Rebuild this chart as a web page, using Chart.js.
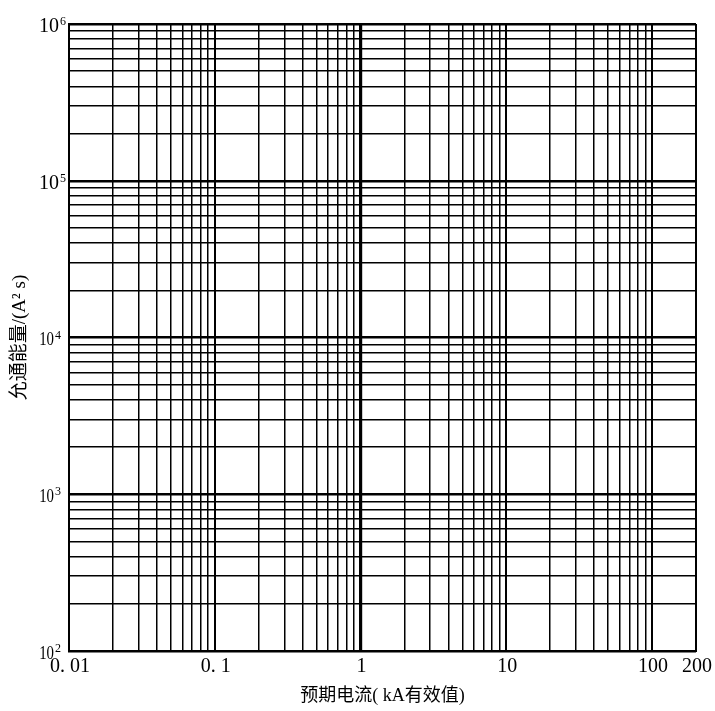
<!DOCTYPE html>
<html>
<head>
<meta charset="utf-8">
<script src="https://cdn.jsdelivr.net/npm/chart.js@4.4.1/dist/chart.umd.min.js"></script>
<style>
  html, body { margin: 0; padding: 0; background: #fff; }
  #wrap { width: 715px; height: 711px; }
</style>
</head>
<body>
<div id="wrap"><canvas id="c" width="715" height="711"></canvas></div>
<script>
// Axis ranges and labelled ticks
const xMajorTicks = [0.01, 0.1, 1, 10, 100, 200];
const xTickLabels = ['0. 01', '0. 1', '1', '10', '100', '200'];
const yMajorTicks = [100, 1000, 10000, 100000, 1000000];
const yTickBase = '10';
const yTickExponents = ['2', '3', '4', '5', '6'];
const minorMultipliers = [1, 2, 3, 4, 5, 6, 7, 8, 9];
const xTitle = '预期电流( kA有效值)';
const yTitle = '允通能量/(A² s)';

const X_MIN = xMajorTicks[0], X_MAX = xMajorTicks[xMajorTicks.length - 1];
const Y_MIN = yMajorTicks[0], Y_MAX = yMajorTicks[yMajorTicks.length - 1];

function logGrid(min, max) {
  const out = [];
  for (let e = Math.round(Math.log10(min)); Math.pow(10, e) <= max; e++) {
    const d = Math.pow(10, e);
    for (const m of minorMultipliers) {
      const v = parseFloat((m * d).toPrecision(6));
      if (v >= min && v <= max) out.push(v);
    }
  }
  return out;
}
const xGrid = logGrid(X_MIN, X_MAX);
const yGrid = logGrid(Y_MIN, Y_MAX);

function isDecade(v) {
  const l = Math.log10(v);
  return Math.abs(l - Math.round(l)) < 1e-9;
}

const numFont = '"Liberation Serif", "DejaVu Serif", serif';
const cjkFont = '"Liberation Serif", "Noto Sans CJK SC", serif';

// Draws the power-of-ten labels of the y axis (base + raised exponent)
const yPowerLabels = {
  id: 'yPowerLabels',
  afterDraw(chart) {
    const s = chart.scales.y;
    const ctx = chart.ctx;
    const left = chart.chartArea.left;
    yMajorTicks.forEach((v, i) => {
      const py = s.getPixelForValue(v);
      const big = Number(yTickExponents[i]) >= 5;
      const rx = big ? left - 10 : left - 15;
      ctx.save();
      ctx.fillStyle = '#000';
      ctx.textAlign = 'right';
      ctx.textBaseline = 'middle';
      ctx.translate(rx, py + 3);
      if (!big) ctx.scale(0.78, 1);
      ctx.font = (big ? 20 : 19) + 'px ' + numFont;
      ctx.fillText(yTickBase, 0, 0);
      ctx.restore();
      ctx.save();
      ctx.fillStyle = '#000';
      ctx.textAlign = 'left';
      ctx.textBaseline = 'top';
      ctx.font = '12px ' + numFont;
      ctx.fillText(yTickExponents[i], rx + 1, py - 8);
      ctx.restore();
    });
  }
};

new Chart(document.getElementById('c'), {
  type: 'scatter',
  data: { datasets: [{ data: [], showLine: false }] },
  plugins: [yPowerLabels],
  options: {
    responsive: false,
    animation: false,
    events: [],
    layout: { padding: { left: 0, right: 19, top: 24, bottom: 0 } },
    plugins: { legend: { display: false }, tooltip: { enabled: false } },
    scales: {
      x: {
        type: 'logarithmic',
        min: X_MIN, max: X_MAX,
        afterBuildTicks: (s) => { s.ticks = xGrid.map(v => ({ value: v })); },
        afterFit: (s) => { s.height = 60; },
        border: { display: true, color: '#000', width: 2 },
        grid: {
          drawTicks: false,
          color: '#000',
          lineWidth: (ctx) => {
            const v = ctx.tick ? ctx.tick.value : 0;
            if (v === 1) return 3.2;
            if (v === X_MAX) return 2;
            return isDecade(v) ? 2 : 1.5;
          }
        },
        ticks: {
          autoSkip: false, maxRotation: 0, minRotation: 0, padding: 4,
          labelOffset: 1,
          color: '#000',
          font: { family: numFont, size: 20 },
          callback: (value) => {
            const i = xMajorTicks.findIndex(t => Math.abs(t - value) / t < 1e-6);
            return i >= 0 ? xTickLabels[i] : '';
          }
        },
        title: {
          display: true, text: xTitle, color: '#000',
          font: { family: cjkFont, size: 18 },
          padding: { top: 0, bottom: 4 }
        }
      },
      y: {
        type: 'logarithmic',
        min: Y_MIN, max: Y_MAX,
        afterBuildTicks: (s) => { s.ticks = yGrid.map(v => ({ value: v })); },
        afterFit: (s) => { s.width = 69; },
        border: { display: true, color: '#000', width: 2 },
        grid: {
          drawTicks: false,
          color: '#000',
          lineWidth: (ctx) => {
            const v = ctx.tick ? ctx.tick.value : 0;
            return isDecade(v) ? 2.4 : 1.5;
          }
        },
        ticks: { display: false },
        title: {
          display: true, text: yTitle, color: '#000',
          font: { family: cjkFont, size: 19 },
          padding: { top: 9, bottom: 0 }
        }
      }
    }
  }
});
</script>
</body>
</html>
